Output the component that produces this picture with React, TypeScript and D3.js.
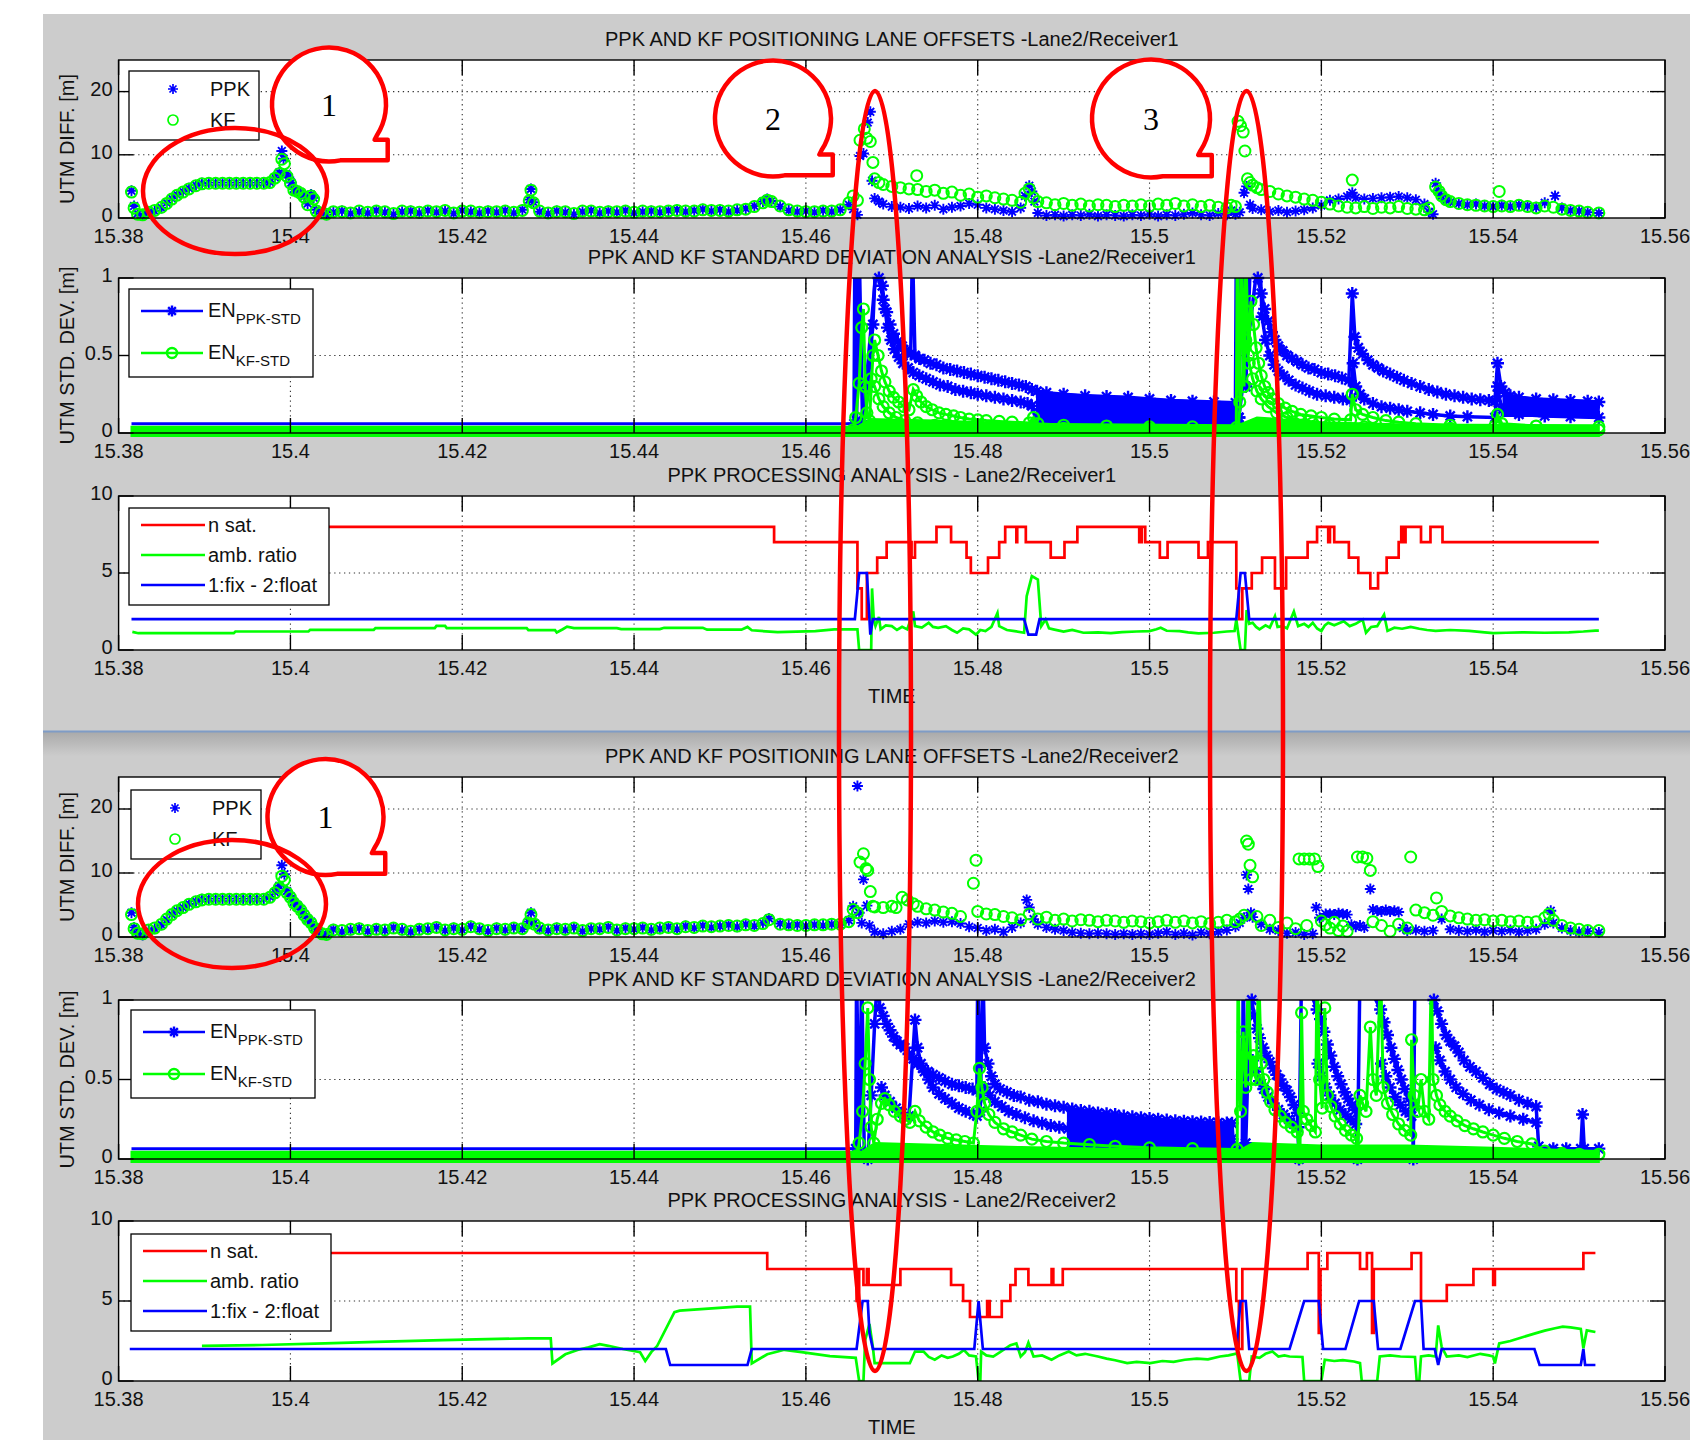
import React from 'react';
import * as d3 from 'd3';

type P = [number, number | null];
type B = [number, number, number];

// axes ticks
const timeTicks = [15.38, 15.4, 15.42, 15.44, 15.46, 15.48, 15.5, 15.52, 15.54, 15.56];
const diffTicks = [0, 10, 20];
const stdTicks = [0, 0.5, 1];
const procTicks = [0, 5, 10];

// ---------------- Receiver 1 : lane offsets ----------------
const r1PpkDiff: P[] = [
  [15.3815,4.3],[15.3818,1.9],[15.3822,0.7],[15.3828,0.4],[15.3835,1.0],[15.3842,1.1],[15.385,1.6],[15.3856,2.4],
  [15.3862,3.1],[15.3868,3.7],[15.3875,4.2],[15.3882,4.7],[15.389,5.2],[15.3897,5.5],[15.3905,5.6],[15.3913,5.6],
  [15.3921,5.6],[15.3929,5.6],[15.3937,5.6],[15.3945,5.6],[15.3953,5.6],[15.3961,5.6],[15.3969,5.6],[15.3976,5.7],
  [15.3982,6.4],[15.3987,7.2],[15.399,10.6],[15.3992,9.4],[15.3995,7.0],[15.3998,6.4],[15.4001,5.6],[15.4004,4.6],
  [15.4008,4.3],[15.4012,4.0],[15.4016,3.4],[15.402,2.3],[15.4024,3.7],[15.4027,3.2],[15.403,1.3],[15.4035,0.7],
  [15.4042,0.5],[15.405,0.9],[15.406,1.1],[15.407,0.7],[15.408,1.0],[15.409,0.8],[15.41,1.2],[15.411,0.9],
  [15.412,0.6],[15.413,1.0],[15.414,1.1],[15.415,0.8],[15.416,1.2],[15.417,0.9],[15.418,1.1],[15.419,0.7],
  [15.42,1.2],[15.421,1.0],[15.422,0.8],[15.423,1.1],[15.424,0.9],[15.425,1.2],[15.426,0.8],[15.427,1.3],
  [15.4278,2.9],[15.428,4.6],[15.4283,2.5],[15.429,1.0],[15.43,0.7],[15.431,1.1],[15.432,0.9],[15.433,0.6],
  [15.434,1.0],[15.435,1.2],[15.436,0.8],[15.437,1.1],[15.438,0.9],[15.439,1.2],[15.44,0.8],[15.441,1.0],
  [15.442,1.1],[15.443,0.9],[15.444,1.2],[15.445,1.3],[15.446,1.0],[15.447,1.2],[15.448,1.4],[15.449,1.1],
  [15.45,1.3],[15.451,1.0],[15.452,1.2],[15.453,1.5],[15.454,1.9],[15.455,2.6],[15.4555,3.0],[15.456,2.7],
  [15.457,1.8],[15.458,1.2],[15.459,1.0],[15.46,1.1],[15.461,0.9],[15.462,1.2],[15.463,1.0],[15.464,1.3],
  [15.465,2.1],[15.4655,1.4],[15.466,0.5],[15.4663,9.8],[15.4667,10.2],[15.4672,15.1],[15.4675,16.8],[15.4677,5.9],
  [15.468,3.1],[15.4685,2.6],[15.469,2.2],[15.47,1.8],[15.471,1.7],[15.472,1.5],[15.473,1.9],[15.474,1.6],
  [15.475,2.0],[15.476,1.4],[15.477,1.7],[15.478,1.9],[15.479,2.3],[15.48,2.1],[15.481,1.6],[15.482,1.4],
  [15.483,1.2],[15.484,1.0],[15.485,1.6],[15.4855,3.5],[15.486,5.1],[15.4863,4.2],[15.4866,2.6],[15.487,0.8],
  [15.488,0.4],[15.489,0.5],[15.49,0.3],[15.491,0.5],[15.492,0.4],[15.493,0.6],[15.494,0.3],[15.495,0.5],
  [15.496,0.4],[15.497,0.3],[15.498,0.5],[15.499,0.4],[15.5,0.6],[15.501,0.3],[15.502,0.5],[15.503,0.4],
  [15.504,0.6],[15.505,0.8],[15.506,0.5],[15.507,0.4],[15.508,0.7],[15.509,0.5],[15.5095,1.2],[15.51,0.6],
  [15.5105,0.9],[15.511,4.0],[15.5113,5.0],[15.5117,2.1],[15.512,1.5],[15.513,1.3],[15.514,1.0],[15.515,1.2],
  [15.516,0.9],[15.517,1.1],[15.518,1.3],[15.519,1.6],[15.52,2.0],[15.521,2.8],[15.522,3.0],[15.523,3.4],
  [15.5236,4.0],[15.524,3.2],[15.525,3.0],[15.526,3.1],[15.527,3.2],[15.528,3.3],[15.529,3.4],[15.53,3.2],
  [15.531,2.9],[15.532,2.2],[15.5325,1.0],[15.533,0.6],[15.5333,5.5],[15.5336,4.4],[15.534,3.5],[15.5345,2.8],
  [15.535,2.5],[15.536,2.3],[15.537,2.1],[15.538,2.2],[15.539,1.9],[15.54,1.8],[15.541,2.0],[15.542,1.8],
  [15.543,2.1],[15.544,1.9],[15.545,1.7],[15.546,2.4],[15.5472,3.5],[15.548,1.6],[15.549,1.2],[15.55,1.1],
  [15.551,0.9],[15.5523,0.8],
];
const r1KfDiff: P[] = [
  [15.3815,4.1],[15.3818,1.6],[15.3822,0.6],[15.3828,0.5],[15.3835,0.9],[15.3842,1.2],[15.385,1.7],[15.3856,2.3],
  [15.3862,3.0],[15.3868,3.6],[15.3875,4.1],[15.3882,4.6],[15.389,5.1],[15.3897,5.4],[15.3905,5.5],[15.3913,5.5],
  [15.3921,5.5],[15.3929,5.5],[15.3937,5.5],[15.3945,5.5],[15.3953,5.5],[15.3961,5.5],[15.3969,5.5],[15.3976,5.6],
  [15.3982,6.3],[15.3987,7.0],[15.399,9.3],[15.3993,8.6],[15.3996,6.6],[15.4,5.5],[15.4004,4.4],[15.4008,4.2],
  [15.4012,3.9],[15.4016,3.3],[15.402,2.1],[15.4024,3.5],[15.4027,3.0],[15.403,1.1],[15.4035,0.8],[15.4042,0.6],
  [15.405,1.0],[15.406,1.0],[15.407,0.8],[15.408,1.1],[15.409,0.9],[15.41,1.1],[15.411,1.0],[15.412,0.7],
  [15.413,1.1],[15.414,1.0],[15.415,0.9],[15.416,1.1],[15.417,1.0],[15.418,1.2],[15.419,0.8],[15.42,1.1],
  [15.421,1.1],[15.422,0.9],[15.423,1.0],[15.424,1.0],[15.425,1.1],[15.426,0.9],[15.427,1.2],[15.4278,2.7],
  [15.428,4.4],[15.4283,2.4],[15.429,1.1],[15.43,0.8],[15.431,1.0],[15.432,1.0],[15.433,0.7],[15.434,1.1],
  [15.435,1.1],[15.436,0.9],[15.437,1.0],[15.438,1.0],[15.439,1.1],[15.44,0.9],[15.441,1.1],[15.442,1.0],
  [15.443,1.0],[15.444,1.1],[15.445,1.2],[15.446,1.1],[15.447,1.1],[15.448,1.3],[15.449,1.2],[15.45,1.2],
  [15.451,1.1],[15.452,1.3],[15.453,1.4],[15.454,1.8],[15.455,2.4],[15.4555,2.8],[15.456,2.6],[15.457,1.9],
  [15.458,1.3],[15.459,1.1],[15.46,1.0],[15.461,1.0],[15.462,1.1],[15.463,1.1],[15.464,1.3],[15.465,2.4],
  [15.4655,3.5],[15.466,2.8],[15.4663,12.3],[15.4668,14.1],[15.4671,12.6],[15.4675,12.1],[15.4678,8.8],[15.468,6.2],
  [15.4685,5.6],[15.469,5.3],[15.47,5.0],[15.471,4.8],[15.472,4.6],[15.4729,6.7],[15.473,4.5],[15.474,4.2],
  [15.475,4.4],[15.476,3.9],[15.477,4.1],[15.478,3.6],[15.479,3.8],[15.48,3.3],[15.481,3.5],[15.482,3.2],
  [15.483,3.0],[15.484,2.8],[15.485,2.5],[15.4855,3.9],[15.486,4.6],[15.4865,3.2],[15.487,2.6],[15.488,2.4],
  [15.489,2.1],[15.49,2.3],[15.491,2.0],[15.492,2.2],[15.493,1.9],[15.494,2.1],[15.495,2.0],[15.496,1.8],
  [15.497,2.0],[15.498,1.9],[15.499,2.1],[15.5,1.9],[15.501,2.2],[15.502,2.0],[15.503,2.3],[15.504,1.9],
  [15.505,2.1],[15.506,1.8],[15.507,2.0],[15.508,1.7],[15.509,1.6],[15.5095,2.0],[15.51,1.8],[15.5103,15.3],
  [15.5106,14.6],[15.5109,13.6],[15.5111,10.6],[15.5114,6.2],[15.5117,5.6],[15.512,5.2],[15.5125,4.8],[15.513,4.5],
  [15.514,4.2],[15.515,3.8],[15.516,3.5],[15.517,3.3],[15.518,3.0],[15.519,2.8],[15.52,2.5],[15.521,2.2],
  [15.522,1.9],[15.523,1.7],[15.5236,6.0],[15.524,1.6],[15.525,1.8],[15.526,1.5],[15.527,1.7],[15.528,1.6],
  [15.529,1.8],[15.53,1.5],[15.531,1.4],[15.532,1.3],[15.5325,1.6],[15.5333,4.9],[15.5337,4.2],[15.534,3.5],
  [15.5345,2.9],[15.535,2.6],[15.536,2.3],[15.537,2.1],[15.538,2.0],[15.539,1.9],[15.54,1.8],[15.5407,4.2],
  [15.541,1.9],[15.542,1.8],[15.543,2.0],[15.544,1.8],[15.545,1.6],[15.546,1.9],[15.547,1.7],[15.548,1.4],
  [15.549,1.2],[15.55,1.1],[15.551,0.9],[15.5523,0.8],
];

// ---------------- Receiver 1 : standard deviations ----------------
const r1PpkStdBase: P[] = [[15.3815,0.06],[15.4656,0.06]];
const r1PpkStdA: P[] = [
  [15.4656,0.06],[15.4657,1.2],[15.4659,0.08],[15.4662,1.2],[15.4666,0.05],[15.4672,0.3],[15.4678,0.7],[15.4682,1.2],
  [15.4685,1.0],[15.469,0.86],[15.4694,0.78],[15.4698,0.7],[15.4702,0.64],[15.4707,0.59],[15.4712,0.56],[15.4717,0.53],
  [15.4722,0.51],[15.4724,1.2],[15.4727,0.5],[15.4732,0.48],[15.4738,0.47],[15.4745,0.45],[15.4752,0.44],[15.476,0.42],
  [15.4768,0.41],[15.4776,0.4],[15.4784,0.39],[15.4792,0.38],[15.48,0.37],[15.4808,0.36],[15.4816,0.35],[15.4824,0.34],
  [15.4832,0.33],[15.484,0.32],[15.4848,0.31],[15.4856,0.3],[15.4863,0.28],[15.4869,0.27],[15.488,0.26],[15.49,0.25],
  [15.4925,0.24],[15.495,0.235],[15.4975,0.23],[15.5,0.22],[15.5025,0.21],[15.505,0.205],[15.5075,0.2],[15.51,0.195],
  [15.5101,1.2],[15.5104,0.1],[15.5107,1.2],[15.5112,0.3],[15.5118,1.2],[15.5126,1.0],[15.513,0.9],[15.5134,0.8],
  [15.5138,0.72],[15.5142,0.65],[15.5146,0.6],[15.515,0.56],[15.5155,0.53],[15.516,0.5],[15.5166,0.48],[15.5172,0.46],
  [15.5178,0.44],[15.5185,0.42],[15.5192,0.41],[15.52,0.39],[15.5208,0.38],[15.5216,0.37],[15.5224,0.355],[15.5232,0.34],
  [15.5236,0.9],[15.5239,0.62],[15.5243,0.55],[15.5248,0.51],[15.5254,0.47],[15.526,0.44],[15.5266,0.42],[15.5272,0.4],
  [15.528,0.38],[15.5288,0.36],[15.5296,0.34],[15.5305,0.32],[15.5315,0.3],[15.5325,0.28],[15.5335,0.265],[15.5345,0.25],
  [15.5355,0.24],[15.5365,0.23],[15.5375,0.22],[15.5385,0.215],[15.5395,0.21],[15.5402,0.205],[15.5405,0.45],[15.5409,0.3],
  [15.5414,0.26],[15.542,0.24],[15.543,0.23],[15.545,0.22],[15.547,0.215],[15.549,0.21],[15.551,0.205],[15.5523,0.2],
];
const r1PpkStdB: P[] = [
  [15.4666,0.05],[15.4684,1.2],[15.4689,0.95],[15.4692,0.8],[15.4695,0.68],[15.4699,0.6],[15.4703,0.54],[15.4708,0.49],
  [15.4713,0.45],[15.4719,0.42],[15.4725,0.39],[15.4732,0.37],[15.474,0.35],[15.4748,0.33],[15.4756,0.31],[15.4765,0.3],
  [15.4774,0.28],[15.4783,0.27],[15.4792,0.26],[15.48,0.25],[15.481,0.24],[15.482,0.23],[15.483,0.22],[15.484,0.21],
  [15.485,0.2],[15.4858,0.19],[15.4863,0.175],[15.4869,0.06],[15.49,0.055],[15.5,0.05],[15.5103,0.05],[15.5104,0.1],
  [15.5128,1.2],[15.5131,0.75],[15.5135,0.6],[15.514,0.5],[15.5145,0.44],[15.515,0.4],[15.5156,0.37],[15.5162,0.34],
  [15.517,0.31],[15.5178,0.29],[15.5186,0.27],[15.5195,0.25],[15.5205,0.24],[15.5215,0.23],[15.5225,0.22],[15.5234,0.21],
  [15.5237,0.45],[15.524,0.3],[15.5245,0.25],[15.525,0.22],[15.526,0.19],[15.527,0.17],[15.528,0.16],[15.529,0.15],
  [15.53,0.14],[15.5315,0.13],[15.533,0.12],[15.535,0.11],[15.537,0.105],[15.5402,0.1],[15.5405,0.3],[15.541,0.15],
  [15.543,0.12],[15.546,0.11],[15.549,0.105],[15.5523,0.1],
];
const r1PpkStdFill: B[][] = [
  [[15.4869,0.05,0.27],[15.49,0.05,0.25],[15.495,0.05,0.235],[15.5,0.05,0.22],[15.505,0.05,0.205],[15.5101,0.05,0.195]],
  [[15.5412,0.11,0.25],[15.545,0.11,0.22],[15.5523,0.1,0.2]],
];
const r1KfStdFill: B[][] = [
  [[15.3815,-0.03,0.04],[15.466,-0.03,0.04],[15.4675,-0.03,0.09],[15.475,-0.03,0.08],[15.485,-0.03,0.06],[15.5103,-0.03,0.05],
   [15.5125,-0.03,0.1],[15.52,-0.03,0.07],[15.53,-0.03,0.055],[15.5523,-0.03,0.05]],
];
const r1KfStdA: P[] = [
  [15.4655,0.02],[15.4658,0.1],[15.4662,0.32],[15.4665,0.68],[15.4667,0.8],[15.4669,0.3],[15.4671,0.13],[15.4674,0.08],
  [15.4678,0.5],[15.468,0.6],[15.4684,0.5],[15.4688,0.4],[15.4692,0.33],[15.4697,0.27],[15.4702,0.23],[15.4708,0.2],
  [15.4714,0.17],[15.472,0.15],[15.4725,0.28],[15.4729,0.24],[15.4734,0.2],[15.474,0.17],[15.4747,0.15],[15.4755,0.13],
  [15.4763,0.12],[15.4772,0.11],[15.478,0.1],[15.479,0.09],[15.48,0.085],[15.481,0.08],[15.4825,0.075],[15.484,0.07],
  [15.486,0.065],[15.4865,0.1],[15.487,0.06],[15.49,0.05],[15.495,0.045],[15.5,0.04],[15.505,0.04],[15.5101,0.035],
  [15.5102,1.2],[15.5105,0.2],[15.5107,1.2],[15.511,0.3],[15.5112,1.2],[15.5115,0.5],[15.5118,0.85],[15.5121,0.7],
  [15.5124,0.55],[15.5127,0.45],[15.513,0.37],[15.5134,0.3],[15.5138,0.26],[15.5143,0.22],[15.515,0.19],[15.5158,0.16],
  [15.5166,0.14],[15.5176,0.12],[15.5188,0.11],[15.52,0.1],[15.5215,0.09],[15.5234,0.085],[15.5236,0.25],[15.524,0.15],
  [15.5248,0.12],[15.526,0.1],[15.5275,0.08],[15.529,0.07],[15.531,0.06],[15.535,0.05],[15.5402,0.045],[15.5405,0.12],
  [15.541,0.06],[15.545,0.045],[15.5523,0.04],
];
const r1KfStdB: P[] = [
  [15.4666,0.02],[15.4676,0.35],[15.468,0.3],[15.4685,0.22],[15.469,0.17],[15.4697,0.13],[15.4705,0.1],[15.4715,0.08],
  [15.473,0.065],[15.475,0.05],[15.48,0.04],[15.49,0.03],[15.5,0.025],[15.5103,0.02],[15.5112,0.6],[15.5116,0.45],
  [15.512,0.35],[15.5125,0.27],[15.513,0.22],[15.5138,0.17],[15.5148,0.13],[15.516,0.1],[15.5175,0.08],[15.519,0.065],
  [15.521,0.05],[15.525,0.04],[15.535,0.03],[15.5523,0.02],
];

// ---------------- Receiver 1 : processing ----------------
const r1NSat: P[] = [
  [15.3815,8],[15.4563,7],[15.466,4],[15.4665,2],[15.4671,5],[15.4683,6],[15.4694,7],[15.4723,6],[15.4727,7],[15.4752,8],
  [15.4769,7],[15.4787,6],[15.4792,5],[15.4812,6],[15.4825,7],[15.4832,8],[15.4845,7],[15.4846,8],[15.4856,7],[15.4885,6],
  [15.4901,7],[15.4916,8],[15.4988,7],[15.4991,8],[15.4995,7],[15.5012,6],[15.5021,7],[15.5057,6],[15.5068,7],[15.5101,4],
  [15.5104,2],[15.5108,4],[15.5119,5],[15.5131,6],[15.5146,4],[15.5159,6],[15.5184,7],[15.5195,8],[15.5208,7],[15.521,8],
  [15.5215,7],[15.5232,6],[15.5243,5],[15.5257,4],[15.5266,5],[15.5276,6],[15.529,7],[15.5293,8],[15.5296,7],[15.5298,8],
  [15.5316,7],[15.5327,8],[15.5341,7],[15.5523,7],
];
const r1AmbRatio: P[] = [
  [15.3816,1.18],[15.3823,1.09],[15.3934,1.09],[15.3936,1.2],[15.4021,1.2],[15.4023,1.31],[15.4097,1.31],[15.4099,1.42],
  [15.4168,1.42],[15.417,1.57],[15.418,1.57],[15.4182,1.42],[15.4275,1.42],[15.4277,1.29],[15.4308,1.29],[15.431,1.14],
  [15.4317,1.35],[15.4322,1.52],[15.433,1.42],[15.438,1.42],[15.4385,1.36],[15.443,1.36],[15.4435,1.44],[15.448,1.44],
  [15.4485,1.32],[15.4525,1.32],[15.4532,1.5],[15.4537,1.28],[15.4567,1.16],[15.4611,1.23],[15.4633,1.34],[15.466,1.34],
  [15.4662,0],[15.4676,0],[15.4677,4.0],[15.4679,1.98],[15.4681,1.55],[15.4685,2.15],[15.4687,1.34],[15.4693,1.6],
  [15.47,1.55],[15.4706,1.3],[15.4712,1.5],[15.4718,1.34],[15.4725,2.5],[15.4727,1.55],[15.4735,1.45],[15.4743,1.77],
  [15.4748,1.5],[15.4754,1.44],[15.4763,1.55],[15.477,1.3],[15.4776,1.12],[15.4783,1.4],[15.479,1.34],[15.4798,1.0],
  [15.4803,1.3],[15.4809,1.23],[15.4816,1.5],[15.4823,2.4],[15.4825,1.55],[15.4834,1.3],[15.4843,1.23],[15.4854,1.12],
  [15.4857,3.5],[15.4863,4.8],[15.487,4.57],[15.4874,1.55],[15.4879,1.98],[15.4883,1.4],[15.4888,1.34],[15.49,1.2],
  [15.491,1.3],[15.4923,1.12],[15.494,1.15],[15.4955,1.1],[15.4968,1.16],[15.4985,1.2],[15.5,1.23],[15.5008,1.35],
  [15.5013,1.44],[15.502,1.25],[15.5035,1.23],[15.5045,1.15],[15.5057,1.08],[15.5075,1.12],[15.509,1.2],[15.5099,1.23],
  [15.5101,1.98],[15.5106,0],[15.5111,0],[15.5113,2.6],[15.5116,1.7],[15.512,1.77],[15.5124,1.5],[15.5128,1.34],
  [15.5135,1.6],[15.514,1.45],[15.5146,2.2],[15.5149,1.5],[15.5155,1.55],[15.516,1.4],[15.5168,2.5],[15.5173,1.55],
  [15.518,1.7],[15.5185,1.5],[15.519,1.77],[15.5195,1.4],[15.52,1.23],[15.5204,1.6],[15.5208,1.77],[15.5215,1.6],
  [15.5226,1.87],[15.5233,1.55],[15.524,1.7],[15.5248,1.98],[15.5252,1.12],[15.5258,1.5],[15.5265,1.55],[15.5273,2.3],
  [15.5277,1.24],[15.5285,1.45],[15.5294,1.38],[15.5304,1.5],[15.5314,1.38],[15.5323,1.3],[15.5333,1.24],[15.535,1.3],
  [15.5372,1.24],[15.539,1.15],[15.54,1.09],[15.5415,1.12],[15.5434,1.15],[15.546,1.12],[15.5488,1.15],[15.5505,1.2],
  [15.5519,1.26],[15.5523,1.26],
];
const r1FixFloat: P[] = [
  [15.3815,2],[15.4657,2],[15.4662,5],[15.4671,5],[15.4675,1],[15.4678,2],[15.4854,2],[15.4859,1],[15.4868,1],[15.4872,2],
  [15.5101,2],[15.5106,5],[15.5111,5],[15.5116,2],[15.5523,2],
];

// ---------------- Receiver 2 : lane offsets ----------------
const r2PpkDiff: P[] = [
  [15.3815,3.8],[15.3818,1.5],[15.3822,0.5],[15.3828,0.3],[15.3835,1.0],[15.3842,1.3],[15.385,1.9],[15.3856,2.7],
  [15.3862,3.5],[15.3868,4.1],[15.3875,4.6],[15.3882,5.2],[15.389,5.6],[15.3897,5.9],[15.3905,6.0],[15.3913,6.0],
  [15.3921,6.0],[15.3929,6.0],[15.3937,6.0],[15.3945,6.0],[15.3953,6.0],[15.3961,6.0],[15.3969,6.0],[15.3976,6.3],
  [15.3982,7.0],[15.3987,8.0],[15.399,11.2],[15.3993,9.8],[15.3996,7.2],[15.4,6.4],[15.4004,5.5],[15.4008,5.0],
  [15.4012,4.4],[15.4016,3.6],[15.402,2.9],[15.4024,2.4],[15.4028,1.5],[15.4032,0.8],[15.4037,0.4],[15.4042,0.3],
  [15.405,1.2],[15.406,0.8],[15.407,1.1],[15.408,1.4],[15.409,0.9],[15.41,1.3],[15.411,1.0],[15.412,1.5],
  [15.413,1.1],[15.414,0.8],[15.415,1.3],[15.416,1.2],[15.417,1.6],[15.418,1.0],[15.419,1.4],[15.42,1.1],
  [15.421,1.7],[15.422,1.2],[15.423,0.9],[15.424,1.4],[15.425,1.1],[15.426,1.5],[15.427,1.2],[15.4277,2.4],
  [15.428,3.8],[15.4284,2.2],[15.429,1.3],[15.43,1.0],[15.431,1.4],[15.432,1.1],[15.433,1.5],[15.434,0.9],
  [15.435,1.3],[15.436,1.2],[15.437,1.6],[15.438,1.0],[15.439,1.4],[15.44,1.2],[15.441,1.5],[15.442,1.1],
  [15.443,1.3],[15.444,1.6],[15.445,1.2],[15.446,1.7],[15.447,1.4],[15.448,1.8],[15.449,1.5],[15.45,1.7],
  [15.451,1.9],[15.452,1.6],[15.453,2.0],[15.454,1.7],[15.455,2.2],[15.4557,2.9],[15.457,2.1],[15.458,1.8],
  [15.459,1.9],[15.46,1.7],[15.461,1.9],[15.462,1.8],[15.463,2.0],[15.464,1.9],[15.465,2.6],[15.4655,4.8],
  [15.466,23.6],[15.4662,3.8],[15.4665,2.2],[15.4667,9.0],[15.4671,4.9],[15.4674,1.8],[15.468,0.8],[15.469,0.5],
  [15.47,0.9],[15.471,1.2],[15.472,2.0],[15.473,2.3],[15.474,2.2],[15.475,2.5],[15.476,2.3],[15.477,2.4],
  [15.478,2.1],[15.479,1.6],[15.48,1.4],[15.481,1.0],[15.482,1.2],[15.483,0.8],[15.484,1.5],[15.485,2.2],
  [15.4857,5.8],[15.486,4.6],[15.4865,2.8],[15.487,2.0],[15.488,1.5],[15.489,1.2],[15.49,1.0],[15.491,0.7],
  [15.492,0.6],[15.493,0.5],[15.494,0.6],[15.495,0.5],[15.496,0.4],[15.497,0.5],[15.498,0.4],[15.499,0.5],
  [15.5,0.4],[15.501,0.6],[15.502,0.8],[15.503,0.4],[15.504,0.6],[15.505,0.3],[15.506,0.7],[15.507,0.5],
  [15.508,0.8],[15.509,1.1],[15.51,1.6],[15.5105,2.2],[15.511,3.0],[15.5113,9.7],[15.5115,7.5],[15.5118,3.8],
  [15.512,3.1],[15.513,2.0],[15.514,1.2],[15.515,1.0],[15.516,0.6],[15.517,0.7],[15.518,0.4],[15.519,0.5],
  [15.5194,4.6],[15.5198,3.0],[15.5205,3.6],[15.521,3.6],[15.5215,3.5],[15.522,3.7],[15.5225,3.6],[15.523,3.5],
  [15.5235,1.9],[15.524,1.6],[15.5245,1.8],[15.525,1.5],[15.5257,7.5],[15.526,4.3],[15.5265,4.1],[15.527,4.0],
  [15.5275,4.2],[15.528,4.0],[15.5285,4.1],[15.529,3.9],[15.5295,1.4],[15.53,1.0],[15.531,1.1],[15.532,0.9],
  [15.533,1.0],[15.534,2.8],[15.535,1.2],[15.536,1.0],[15.537,0.9],[15.538,1.1],[15.539,0.8],[15.54,1.0],
  [15.541,0.9],[15.542,1.1],[15.543,0.8],[15.544,1.0],[15.545,1.2],[15.546,2.0],[15.5467,4.1],[15.547,2.2],
  [15.548,1.4],[15.549,1.0],[15.55,0.8],[15.551,0.9],[15.5523,0.7],
];
const r2KfDiff: P[] = [
  [15.3815,3.5],[15.3818,1.3],[15.3822,0.6],[15.3828,0.5],[15.3835,1.1],[15.3842,1.4],[15.385,2.0],[15.3856,2.8],
  [15.3862,3.5],[15.3868,4.1],[15.3875,4.6],[15.3882,5.1],[15.389,5.5],[15.3897,5.8],[15.3905,5.9],[15.3913,5.9],
  [15.3921,5.9],[15.3929,5.9],[15.3937,5.9],[15.3945,5.9],[15.3953,5.9],[15.3961,5.9],[15.3969,5.9],[15.3976,6.2],
  [15.3982,6.9],[15.3987,7.7],[15.399,9.5],[15.3993,8.9],[15.3996,6.9],[15.4,6.2],[15.4004,5.3],[15.4008,4.8],
  [15.4012,4.2],[15.4016,3.4],[15.402,2.7],[15.4024,2.2],[15.4028,1.4],[15.4032,0.9],[15.4037,0.5],[15.4042,0.4],
  [15.405,1.1],[15.406,1.0],[15.407,1.2],[15.408,1.3],[15.409,1.0],[15.41,1.2],[15.411,1.1],[15.412,1.4],
  [15.413,1.2],[15.414,0.9],[15.415,1.2],[15.416,1.3],[15.417,1.5],[15.418,1.1],[15.419,1.3],[15.42,1.2],
  [15.421,1.6],[15.422,1.3],[15.423,1.0],[15.424,1.3],[15.425,1.2],[15.426,1.4],[15.427,1.3],[15.4277,2.2],
  [15.428,3.5],[15.4284,2.0],[15.429,1.4],[15.43,1.1],[15.431,1.3],[15.432,1.2],[15.433,1.4],[15.434,1.0],
  [15.435,1.3],[15.436,1.3],[15.437,1.5],[15.438,1.1],[15.439,1.3],[15.44,1.3],[15.441,1.4],[15.442,1.2],
  [15.443,1.4],[15.444,1.5],[15.445,1.3],[15.446,1.6],[15.447,1.5],[15.448,1.7],[15.449,1.6],[15.45,1.7],
  [15.451,1.8],[15.452,1.7],[15.453,1.9],[15.454,1.8],[15.455,2.1],[15.4557,2.7],[15.457,2.0],[15.458,1.9],
  [15.459,1.8],[15.46,1.8],[15.461,1.9],[15.462,1.9],[15.463,2.0],[15.464,2.0],[15.465,2.4],[15.4655,4.3],
  [15.466,3.8],[15.4663,11.7],[15.4667,13.0],[15.467,10.7],[15.4672,10.4],[15.4675,7.1],[15.4678,4.8],[15.468,4.7],
  [15.469,4.6],[15.47,4.8],[15.4705,4.6],[15.4712,6.2],[15.4718,5.8],[15.4725,5.2],[15.473,4.8],[15.474,4.4],
  [15.475,4.2],[15.476,3.9],[15.477,3.7],[15.478,3.2],[15.4795,8.4],[15.4798,12.0],[15.48,4.0],[15.481,3.6],
  [15.482,3.5],[15.483,3.2],[15.484,3.0],[15.485,2.7],[15.486,3.6],[15.487,2.8],[15.488,3.1],[15.489,2.6],
  [15.49,2.8],[15.491,2.5],[15.492,2.7],[15.493,2.6],[15.494,2.4],[15.495,2.6],[15.496,2.5],[15.497,2.3],
  [15.498,2.5],[15.499,2.4],[15.5,2.2],[15.501,2.4],[15.502,2.6],[15.503,2.3],[15.504,2.5],[15.505,2.2],
  [15.506,2.4],[15.507,2.1],[15.508,2.3],[15.509,2.6],[15.51,2.4],[15.5105,2.8],[15.511,3.4],[15.5113,15.0],
  [15.5115,14.5],[15.5117,11.2],[15.512,9.4],[15.5125,3.2],[15.513,1.8],[15.514,2.6],[15.515,1.5],[15.516,2.2],
  [15.517,1.3],[15.5174,12.2],[15.518,12.2],[15.5183,1.8],[15.5186,12.2],[15.5192,12.2],[15.5196,11.0],[15.52,2.5],
  [15.5205,1.9],[15.521,1.4],[15.5215,2.3],[15.522,1.0],[15.5225,1.7],[15.523,0.9],[15.5242,12.5],[15.5248,12.5],
  [15.5253,12.3],[15.5257,10.4],[15.526,2.4],[15.527,1.8],[15.528,0.9],[15.529,2.0],[15.53,1.4],[15.5304,12.5],
  [15.531,4.2],[15.532,3.8],[15.533,3.4],[15.5334,6.1],[15.534,4.0],[15.535,3.3],[15.536,3.0],[15.537,2.8],
  [15.538,2.6],[15.539,2.7],[15.54,2.5],[15.541,2.6],[15.542,2.4],[15.543,2.5],[15.544,2.3],[15.545,2.4],
  [15.546,3.0],[15.5465,3.6],[15.547,2.6],[15.548,1.8],[15.549,1.4],[15.55,1.2],[15.551,1.0],[15.5523,1.0],
];

// ---------------- Receiver 2 : standard deviations ----------------
const r2PpkStdBase: P[] = [[15.3815,0.065],[15.4658,0.065]];
const r2PpkStdA: P[] = [
  [15.4658,0.065],[15.4659,1.2],[15.4662,0.05],[15.4665,1.2],[15.4668,0.02],[15.4672,0.0],[15.4676,0.4],[15.468,0.85],
  [15.4684,1.2],[15.4686,0.95],[15.469,0.9],[15.4694,0.85],[15.4698,0.81],[15.4702,0.77],[15.4706,0.74],[15.471,0.72],
  [15.4715,0.7],[15.472,0.66],[15.4725,0.63],[15.473,0.6],[15.4736,0.57],[15.4742,0.55],[15.4748,0.53],[15.4755,0.51],
  [15.4762,0.49],[15.477,0.47],[15.4778,0.46],[15.4786,0.45],[15.4794,0.44],[15.4799,0.43],[15.48,1.2],[15.4803,0.3],
  [15.4806,1.2],[15.4808,0.7],[15.4812,0.6],[15.4816,0.52],[15.482,0.47],[15.4826,0.44],[15.4834,0.42],[15.4842,0.4],
  [15.485,0.39],[15.486,0.37],[15.487,0.36],[15.488,0.345],[15.489,0.335],[15.49,0.325],[15.491,0.315],[15.492,0.305],
  [15.493,0.3],[15.494,0.29],[15.495,0.285],[15.496,0.28],[15.497,0.27],[15.498,0.265],[15.499,0.26],[15.5,0.255],
  [15.501,0.25],[15.502,0.245],[15.503,0.24],[15.504,0.238],[15.505,0.235],[15.506,0.233],[15.507,0.23],[15.508,0.228],
  [15.509,0.226],[15.5096,0.225],[15.5098,0.065],[15.5108,0.065],[15.5109,1.2],[15.5112,0.1],[15.5118,1.2],[15.5119,1.0],
  [15.5122,0.9],[15.5125,0.82],[15.5128,0.76],[15.5132,0.7],[15.5136,0.65],[15.514,0.61],[15.5144,0.57],[15.5148,0.53],
  [15.5152,0.5],[15.5156,0.46],[15.516,0.43],[15.5164,0.39],[15.5168,0.34],[15.5172,0.29],[15.5174,0.0],[15.5177,1.2],
  [15.5195,0.94],[15.5199,0.88],[15.5203,0.8],[15.5207,0.72],[15.5211,0.65],[15.5215,0.58],[15.5219,0.52],[15.5223,0.47],
  [15.5227,0.42],[15.5231,0.38],[15.5236,0.34],[15.524,0.31],[15.5242,0.0],[15.5245,1.2],[15.5269,0.94],[15.5273,0.86],
  [15.5277,0.78],[15.5281,0.7],[15.5285,0.63],[15.5289,0.56],[15.5293,0.5],[15.5297,0.44],[15.5302,0.38],[15.5306,0.34],
  [15.5307,0.0],[15.5309,1.2],[15.5331,1.0],[15.5335,0.93],[15.534,0.85],[15.5345,0.78],[15.535,0.74],[15.5355,0.71],
  [15.536,0.67],[15.5366,0.62],[15.5373,0.58],[15.538,0.55],[15.5388,0.51],[15.5396,0.47],[15.5404,0.44],[15.5412,0.42],
  [15.542,0.4],[15.543,0.37],[15.544,0.35],[15.545,0.33],[15.5453,0.08],[15.547,0.065],[15.5485,0.065],[15.5502,0.065],
  [15.5504,0.28],[15.5506,0.065],[15.5523,0.065],
];
const r2PpkStdB: P[] = [
  [15.4688,0.45],[15.4692,0.4],[15.4698,0.36],[15.4705,0.32],[15.4712,0.29],[15.472,0.27],[15.4727,0.875],[15.473,0.7],
  [15.4734,0.6],[15.4738,0.55],[15.4743,0.5],[15.4748,0.45],[15.4755,0.41],[15.4762,0.38],[15.477,0.35],[15.4778,0.32],
  [15.4786,0.3],[15.4795,0.28],[15.4799,0.27],[15.4808,0.45],[15.4814,0.4],[15.482,0.36],[15.4828,0.33],[15.4836,0.3],
  [15.4845,0.28],[15.4855,0.26],[15.4865,0.24],[15.4875,0.225],[15.4885,0.21],[15.4895,0.2],[15.4905,0.19],[15.4915,0.18],
  [15.493,0.17],[15.495,0.16],[15.497,0.15],[15.5,0.14],[15.503,0.135],[15.506,0.13],[15.5096,0.125],[15.5097,null],
  [15.512,0.62],[15.5124,0.55],[15.5128,0.49],[15.5133,0.44],[15.5138,0.39],[15.5144,0.35],[15.515,0.31],[15.5156,0.28],
  [15.5162,0.25],[15.5168,0.22],[15.5173,0.2],[15.5174,null],[15.5196,0.6],[15.52,0.52],[15.5205,0.45],[15.521,0.4],
  [15.5216,0.35],[15.5222,0.31],[15.5228,0.28],[15.5234,0.25],[15.524,0.22],[15.5241,null],[15.527,0.6],[15.5275,0.52],
  [15.528,0.45],[15.5286,0.39],[15.5292,0.34],[15.5298,0.3],[15.5305,0.27],[15.5306,null],[15.5333,0.7],[15.5338,0.62],
  [15.5344,0.55],[15.535,0.5],[15.5357,0.45],[15.5365,0.41],[15.5374,0.37],[15.5384,0.34],[15.5395,0.31],[15.5407,0.29],
  [15.542,0.27],[15.5435,0.25],[15.545,0.23],
];
const r2PpkStdFill: B[][] = [
  [[15.4905,0.065,0.32],[15.495,0.065,0.285],[15.5,0.065,0.255],[15.505,0.065,0.235],[15.5096,0.065,0.225]],
];
const r2KfStdFill: B[][] = [
  [[15.3815,-0.03,0.045],[15.4665,-0.03,0.045],[15.468,-0.03,0.1],[15.475,-0.03,0.09],[15.485,-0.03,0.075],[15.5,-0.03,0.06],
   [15.5105,-0.03,0.055],[15.512,-0.03,0.1],[15.52,-0.03,0.085],[15.53,-0.03,0.085],[15.54,-0.03,0.07],[15.5523,-0.03,0.05]],
];
const r2KfStdA: P[] = [
  [15.4659,0.02],[15.4662,0.1],[15.4666,0.3],[15.4669,0.6],[15.4672,0.95],[15.4674,0.5],[15.4676,0.2],[15.4679,0.1],
  [15.4683,0.25],[15.4688,0.35],[15.4692,0.38],[15.4697,0.34],[15.4703,0.3],[15.471,0.27],[15.4716,0.25],[15.4721,0.23],
  [15.4727,0.3],[15.4732,0.24],[15.474,0.2],[15.4748,0.17],[15.4756,0.15],[15.4765,0.13],[15.4775,0.12],[15.4785,0.11],
  [15.4795,0.1],[15.4799,0.3],[15.4802,0.57],[15.4805,0.45],[15.4808,0.35],[15.4813,0.28],[15.482,0.23],[15.483,0.19],
  [15.484,0.17],[15.485,0.15],[15.4863,0.125],[15.488,0.11],[15.49,0.1],[15.493,0.09],[15.496,0.08],[15.5,0.07],
  [15.505,0.065],[15.5102,0.06],[15.5103,1.2],[15.5106,0.3],[15.5109,0.8],[15.5112,0.45],[15.5115,1.2],[15.5118,0.5],
  [15.5121,0.65],[15.5124,0.5],[15.5127,1.2],[15.513,0.6],[15.5133,0.5],[15.5137,0.42],[15.5141,0.36],[15.5146,0.31],
  [15.5152,0.27],[15.5158,0.23],[15.5165,0.2],[15.5172,0.17],[15.5175,0.01],[15.5177,0.92],[15.5179,0.3],[15.5183,0.25],
  [15.5188,0.21],[15.5193,0.17],[15.5195,1.2],[15.5198,0.5],[15.5201,0.32],[15.5204,0.95],[15.5207,0.4],[15.5211,0.33],
  [15.5216,0.27],[15.5222,0.22],[15.5228,0.18],[15.5235,0.15],[15.5241,0.13],[15.5242,0.01],[15.5245,0.4],[15.5248,0.35],
  [15.5252,0.3],[15.5257,0.83],[15.526,0.5],[15.5264,0.4],[15.5269,1.2],[15.5272,0.45],[15.5277,0.35],[15.5283,0.28],
  [15.529,0.22],[15.5297,0.18],[15.5304,0.15],[15.5305,0.75],[15.5308,0.4],[15.5312,0.3],[15.5316,0.5],[15.532,0.3],
  [15.5325,0.25],[15.5328,1.2],[15.533,0.5],[15.5334,0.4],[15.5338,0.34],[15.5344,0.3],[15.535,0.27],[15.5358,0.24],
  [15.5367,0.21],[15.5377,0.19],[15.5388,0.17],[15.54,0.15],[15.5413,0.13],[15.5428,0.11],[15.5445,0.095],[15.546,0.05],
  [15.548,0.035],[15.55,0.03],[15.5523,0.03],
];
const r2KfStdB: P[] = [];

// ---------------- Receiver 2 : processing ----------------
const r2NSat: P[] = [
  [15.3815,8],[15.4555,7],[15.4659,5],[15.4662,7],[15.4667,6],[15.4671,7],[15.4673,6],[15.471,7],[15.4769,6],[15.4783,5],
  [15.4791,4],[15.4811,5],[15.4814,4],[15.4828,5],[15.4838,6],[15.4844,7],[15.4859,6],[15.4886,7],[15.4888,6],[15.4899,7],
  [15.5101,5],[15.5104,2],[15.5108,7],[15.5184,8],[15.5197,3],[15.5199,7],[15.5207,8],[15.5245,7],[15.5253,8],[15.5259,3],
  [15.5261,7],[15.5305,8],[15.5316,5],[15.5346,6],[15.5377,7],[15.54,6],[15.5402,7],[15.5505,8],[15.5519,8],
];
const r2AmbRatio: P[] = [
  [15.3897,2.19],[15.3967,2.25],[15.404,2.35],[15.41,2.45],[15.4177,2.55],[15.4277,2.67],[15.4303,2.67],[15.4305,1.1],
  [15.432,1.67],[15.4335,1.95],[15.4347,2.1],[15.436,2.3],[15.437,2.2],[15.4387,2.0],[15.4407,1.8],[15.4413,1.25],
  [15.442,1.8],[15.4427,2.2],[15.4447,4.3],[15.4453,4.4],[15.452,4.65],[15.4535,4.65],[15.4537,1.1],[15.4555,1.67],
  [15.4575,1.95],[15.4595,1.8],[15.4628,1.55],[15.4658,1.45],[15.4662,0],[15.4667,0],[15.4669,2.55],[15.4674,3.57],
  [15.4678,2.1],[15.468,1.12],[15.4721,1.12],[15.4727,1.84],[15.4737,1.84],[15.4743,1.5],[15.475,1.33],[15.4758,1.6],
  [15.4765,1.45],[15.4771,1.53],[15.4778,1.7],[15.4784,1.94],[15.479,1.6],[15.4798,1.53],[15.4801,0],[15.4803,0],
  [15.4804,1.84],[15.481,1.6],[15.4818,1.53],[15.4826,1.8],[15.4838,2.24],[15.4845,2.35],[15.485,1.53],[15.4855,1.8],
  [15.4859,2.39],[15.4865,1.53],[15.4875,1.6],[15.4886,1.33],[15.4895,1.6],[15.4906,1.84],[15.4915,1.6],[15.4925,1.7],
  [15.494,1.53],[15.495,1.4],[15.496,1.3],[15.4974,1.12],[15.4985,1.2],[15.5001,1.12],[15.5015,1.25],[15.5028,1.2],
  [15.5041,1.33],[15.5055,1.4],[15.5068,1.35],[15.5082,1.53],[15.5092,1.6],[15.5102,1.73],[15.5106,0],[15.5116,0],
  [15.5119,1.53],[15.5128,1.45],[15.5135,1.7],[15.5143,1.84],[15.515,1.53],[15.5157,1.6],[15.5163,1.53],[15.5178,1.5],
  [15.518,0],[15.52,0],[15.5204,1.33],[15.5215,1.25],[15.5225,1.3],[15.5238,1.22],[15.5245,1.12],[15.5247,0],
  [15.5265,0],[15.5268,1.53],[15.528,1.6],[15.5292,1.53],[15.5309,1.5],[15.5311,0],[15.5314,0],[15.5316,1.53],
  [15.5325,1.6],[15.5333,1.53],[15.5336,3.47],[15.534,2.14],[15.5346,1.53],[15.536,1.6],[15.537,1.5],[15.5385,1.7],
  [15.5395,1.6],[15.54,1.53],[15.5402,1.1],[15.5407,2.35],[15.542,2.5],[15.5435,2.75],[15.5448,2.96],[15.546,3.15],
  [15.5472,3.3],[15.5481,3.4],[15.549,3.35],[15.5502,3.26],[15.5505,2.04],[15.5509,3.16],[15.5519,3.06],
];
const r2FixFloat: P[] = [
  [15.3813,2],[15.4437,2],[15.4442,1],[15.4532,1],[15.4537,2],[15.4659,2],[15.4666,5],[15.4672,5],[15.4674,3],[15.4678,2],
  [15.4796,2],[15.4801,5],[15.4806,2],[15.5101,2],[15.5106,5],[15.5112,5],[15.5116,2],[15.5163,2],[15.518,5],[15.5197,5],
  [15.5202,2],[15.5228,2],[15.5244,5],[15.5261,5],[15.5266,2],[15.5292,2],[15.5309,5],[15.5316,5],[15.5319,2],[15.5332,2],
  [15.5336,1],[15.534,2],[15.5448,2],[15.5454,1],[15.5502,1],[15.5505,2],[15.5507,1],[15.5519,1],
];

// ---------------- drawing ----------------
const FONT = '"Liberation Sans", Arial, Helvetica, sans-serif';
const BLUE = '#0000ff';
const GREEN = '#00ff00';
const RED = '#ff0000';
const X0 = 118.6;
const X1 = 1665;
const XC = (X0 + X1) / 2;
const x = d3.scaleLinear().domain([15.38, 15.56]).range([X0, X1]);
const fmt = (v: number) => String(+v.toFixed(2));

const starAt = (cx: number, cy: number, s = 5) => {
  const k = s * 0.7;
  return `M${cx - s},${cy}h${2 * s}M${cx},${cy - s}v${2 * s}M${cx - k},${cy - k}l${2 * k},${2 * k}M${cx - k},${cy + k}l${2 * k},${-2 * k}`;
};
const ringAt = (cx: number, cy: number, r = 5) =>
  `M${cx + r},${cy}a${r},${r} 0 1,0 ${-2 * r},0a${r},${r} 0 1,0 ${2 * r},0`;

function markers(pts: P[], y: any, hi: number, shape: 'star' | 'ring', size: number) {
  return pts
    .filter((p) => p[1] != null && (p[1] as number) <= hi && (p[1] as number) >= 0)
    .map(([t, v]) => (shape === 'star' ? starAt(x(t), y(v), size) : ringAt(x(t), y(v), size)))
    .join('');
}

function Axes({ id, top, bottom, domain, ticks, title, ylabel, time, render, legend }: any) {
  const y = d3.scaleLinear().domain(domain).range([bottom, top]);
  const h = bottom - top;
  return (
    <g>
      <rect x={X0} y={top} width={X1 - X0} height={h} fill="#fff" />
      <g stroke="#333" strokeWidth={1.1} strokeDasharray="1.3 3.6">
        {timeTicks.slice(1, -1).map((t) => (
          <line key={t} x1={x(t)} x2={x(t)} y1={top} y2={bottom} />
        ))}
        {ticks
          .filter((v: number) => y(v) < bottom - 2 && y(v) > top + 2)
          .map((v: number) => (
            <line key={v} x1={X0} x2={X1} y1={y(v)} y2={y(v)} />
          ))}
      </g>
      <defs>
        <clipPath id={id}>
          <rect x={X0} y={top} width={X1 - X0} height={h} />
        </clipPath>
        <clipPath id={id + 'b'}>
          <rect x={X0} y={top} width={X1 - X0} height={h + 4} />
        </clipPath>
      </defs>
      {render(y, `url(#${id})`, `url(#${id}b)`)}
      <rect x={X0} y={top} width={X1 - X0} height={h} fill="none" stroke="#000" strokeWidth={1.4} />
      <g stroke="#000" strokeWidth={1.4}>
        {timeTicks.map((t) => (
          <g key={t}>
            <line x1={x(t)} x2={x(t)} y1={bottom} y2={bottom - 15} />
            <line x1={x(t)} x2={x(t)} y1={top} y2={top + 15} />
          </g>
        ))}
        {ticks.map((v: number) => (
          <g key={v}>
            <line x1={X0} x2={X0 + 15} y1={y(v)} y2={y(v)} />
            <line x1={X1} x2={X1 - 15} y1={y(v)} y2={y(v)} />
          </g>
        ))}
      </g>
      <g fontFamily={FONT} fontSize={20} fill="#111">
        {timeTicks.map((t) => (
          <text key={t} x={x(t)} y={bottom + 25} textAnchor="middle">{fmt(t)}</text>
        ))}
        {ticks.map((v: number) => (
          <text key={v} x={X0 - 6} y={y(v) + 4} textAnchor="end">{fmt(v)}</text>
        ))}
        <text x={XC} y={top - 14} textAnchor="middle">{title}</text>
        {ylabel && (
          <text transform={`translate(74,${(top + bottom) / 2}) rotate(-90)`} textAnchor="middle">{ylabel}</text>
        )}
        {time && <text x={XC} y={bottom + 53} textAnchor="middle">TIME</text>}
      </g>
      {legend}
    </g>
  );
}

function Scatter({ y, ppk, kf }: any) {
  return (
    <g fill="none">
      <path d={markers(ppk, y, 25, 'star', 5.5)} stroke={BLUE} strokeWidth={1.9} />
      <path d={markers(kf, y, 25, 'ring', 5.5)} stroke={GREEN} strokeWidth={2} />
    </g>
  );
}

function StdPlot({ y, clip, clipB, base, ppkA, ppkB, ppkFill, kfFill, kfA, kfB }: any) {
  const line = d3.line<P>().defined((d) => d[1] != null).x((d) => x(d[0])).y((d) => y(d[1] as number));
  const area = d3.area<B>().x((d) => x(d[0])).y0((d) => y(d[1])).y1((d) => y(d[2]));
  return (
    <g fill="none">
      <g clipPath={clip}>
        <path d={line(base) || ''} stroke={BLUE} strokeWidth={3} />
        {ppkFill.map((f: B[], i: number) => (
          <path key={i} d={area(f) || ''} fill={BLUE} stroke={BLUE} strokeWidth={2} />
        ))}
        <path d={line(ppkA) || ''} stroke={BLUE} strokeWidth={3.5} />
        <path d={line(ppkB) || ''} stroke={BLUE} strokeWidth={3.5} />
      </g>
      <path d={markers(ppkA, y, 1, 'star', 6.5)} stroke={BLUE} strokeWidth={2.4} />
      <path d={markers(ppkB, y, 1, 'star', 6.5)} stroke={BLUE} strokeWidth={2.4} />
      <g clipPath={clipB}>
        {kfFill.map((f: B[], i: number) => (
          <path key={i} d={area(f) || ''} fill={GREEN} stroke={GREEN} strokeWidth={2} />
        ))}
      </g>
      <g clipPath={clip}>
        <path d={line(kfA) || ''} stroke={GREEN} strokeWidth={3} />
        <path d={line(kfB) || ''} stroke={GREEN} strokeWidth={3} />
      </g>
      <path d={markers(kfA, y, 1, 'ring', 5.5)} stroke={GREEN} strokeWidth={2.2} />
      <path d={markers(kfB, y, 1, 'ring', 5.5)} stroke={GREEN} strokeWidth={2.2} />
    </g>
  );
}

function ProcPlot({ y, clip, nsat, amb, fix }: any) {
  const step = d3.line<P>().curve(d3.curveStepAfter).x((d) => x(d[0])).y((d) => y(d[1] as number));
  const line = d3.line<P>().x((d) => x(d[0])).y((d) => y(d[1] as number));
  return (
    <g fill="none" clipPath={clip} strokeWidth={2.7}>
      <path d={step(nsat) || ''} stroke={RED} />
      <path d={line(amb) || ''} stroke={GREEN} />
      <path d={line(fix) || ''} stroke={BLUE} />
    </g>
  );
}

function DiffLegend({ lx, ly }: any) {
  return (
    <g>
      <rect x={lx} y={ly} width={130} height={69} fill="#fff" stroke="#000" strokeWidth={1.3} />
      <path d={starAt(lx + 44, ly + 18, 5)} stroke={BLUE} strokeWidth={1.7} fill="none" />
      <path d={ringAt(lx + 44, ly + 49, 5)} stroke={GREEN} strokeWidth={1.7} fill="none" />
      <g fontFamily={FONT} fontSize={20} fill="#111">
        <text x={lx + 81} y={ly + 25}>PPK</text>
        <text x={lx + 81} y={ly + 56}>KF</text>
      </g>
    </g>
  );
}

function StdLegend({ lx, ly }: any) {
  const rows = [
    { dy: 22, color: BLUE, sub: 'PPK-STD', m: starAt(lx + 43, ly + 22, 5.5) },
    { dy: 64, color: GREEN, sub: 'KF-STD', m: ringAt(lx + 43, ly + 64, 5) },
  ];
  return (
    <g>
      <rect x={lx} y={ly} width={184} height={88} fill="#fff" stroke="#000" strokeWidth={1.3} />
      {rows.map((r) => (
        <g key={r.sub}>
          <line x1={lx + 12} x2={lx + 74} y1={ly + r.dy} y2={ly + r.dy} stroke={r.color} strokeWidth={2.7} />
          <path d={r.m} stroke={r.color} strokeWidth={2.4} fill="none" />
          <text x={lx + 79} y={ly + r.dy + 6} fontFamily={FONT} fontSize={20} fill="#111">
            EN<tspan fontSize={15} dy={7}>{r.sub}</tspan>
          </text>
        </g>
      ))}
    </g>
  );
}

function ProcLegend({ lx, ly }: any) {
  const rows = [
    { dy: 17, color: RED, label: 'n sat.' },
    { dy: 47, color: GREEN, label: 'amb. ratio' },
    { dy: 77, color: BLUE, label: '1:fix - 2:float' },
  ];
  return (
    <g>
      <rect x={lx} y={ly} width={200} height={97} fill="#fff" stroke="#000" strokeWidth={1.3} />
      {rows.map((r) => (
        <g key={r.label}>
          <line x1={lx + 12} x2={lx + 76} y1={ly + r.dy} y2={ly + r.dy} stroke={r.color} strokeWidth={2.7} />
          <text x={lx + 79} y={ly + r.dy + 7} fontFamily={FONT} fontSize={20} fill="#111">{r.label}</text>
        </g>
      ))}
    </g>
  );
}

function bubble(cx: number, cy: number, r: number) {
  const a = (33 * Math.PI) / 180;
  const p1x = cx + r * Math.cos(a);
  const p1y = cy + r * Math.sin(a);
  const by = cy + 0.98 * r;
  const bx = cx + r * Math.sqrt(1 - 0.98 * 0.98);
  return `M${p1x},${p1y}L${cx + 0.8 * r},${cy + 0.62 * r}L${cx + 1.03 * r},${cy + 0.62 * r}L${cx + 1.03 * r},${by}L${bx},${by}A${r},${r} 0 1 1 ${p1x},${p1y}Z`;
}

const bubbles = [
  { cx: 329, cy: 104.5, r: 57, label: '1' },
  { cx: 773, cy: 118.5, r: 58, label: '2' },
  { cx: 1151, cy: 118.5, r: 59, label: '3' },
  { cx: 325.5, cy: 817, r: 58, label: '1' },
];
const ellipses = [
  { cx: 235, cy: 191, rx: 92, ry: 63 },
  { cx: 232, cy: 904, rx: 94, ry: 64 },
  { cx: 875, cy: 731, rx: 36, ry: 640 },
  { cx: 1246.5, cy: 731, rx: 36.5, ry: 640 },
];

export default function App() {
  const t1 = 'PPK AND KF POSITIONING LANE OFFSETS -Lane2/Receiver';
  const t2 = 'PPK AND KF STANDARD DEVIATION ANALYSIS -Lane2/Receiver';
  const t3 = 'PPK PROCESSING ANALYSIS - Lane2/Receiver';
  return (
    <svg width={1690} height={1440} viewBox="0 0 1690 1440"
      style={{ position: 'absolute', left: 0, top: 0, background: '#fff' }}>
      <defs>
        <linearGradient id="shade" x1="0" y1="0" x2="0" y2="1">
          <stop offset="0" stopColor="#aaaaaa" />
          <stop offset="1" stopColor="#cccccc" />
        </linearGradient>
      </defs>
      <rect x={43} y={14} width={1647} height={1426} fill="#cccccc" />
      <rect x={43} y={732} width={1647} height={24} fill="url(#shade)" />
      <line x1={43} x2={1690} y1={731.5} y2={731.5} stroke="#7f9cc6" strokeWidth={2} />

      <Axes id="c1" top={60} bottom={218} domain={[0, 25]} ticks={diffTicks} title={t1 + '1'} ylabel="UTM DIFF. [m]"
        render={(y: any) => <Scatter y={y} ppk={r1PpkDiff} kf={r1KfDiff} />}
        legend={<DiffLegend lx={129} ly={71} />} />
      <Axes id="c2" top={278} bottom={433} domain={[0, 1]} ticks={stdTicks} title={t2 + '1'} ylabel="UTM STD. DEV. [m]"
        render={(y: any, c: string, cb: string) => (
          <StdPlot y={y} clip={c} clipB={cb} base={r1PpkStdBase} ppkA={r1PpkStdA} ppkB={r1PpkStdB}
            ppkFill={r1PpkStdFill} kfFill={r1KfStdFill} kfA={r1KfStdA} kfB={r1KfStdB} />
        )}
        legend={<StdLegend lx={129} ly={289} />} />
      <Axes id="c3" top={496} bottom={650} domain={[0, 10]} ticks={procTicks} title={t3 + '1'} time
        render={(y: any, c: string) => <ProcPlot y={y} clip={c} nsat={r1NSat} amb={r1AmbRatio} fix={r1FixFloat} />}
        legend={<ProcLegend lx={129} ly={508} />} />

      <Axes id="c4" top={777} bottom={937} domain={[0, 25]} ticks={diffTicks} title={t1 + '2'} ylabel="UTM DIFF. [m]"
        render={(y: any) => <Scatter y={y} ppk={r2PpkDiff} kf={r2KfDiff} />}
        legend={<DiffLegend lx={131} ly={790} />} />
      <Axes id="c5" top={1000} bottom={1159} domain={[0, 1]} ticks={stdTicks} title={t2 + '2'} ylabel="UTM STD. DEV. [m]"
        render={(y: any, c: string, cb: string) => (
          <StdPlot y={y} clip={c} clipB={cb} base={r2PpkStdBase} ppkA={r2PpkStdA} ppkB={r2PpkStdB}
            ppkFill={r2PpkStdFill} kfFill={r2KfStdFill} kfA={r2KfStdA} kfB={r2KfStdB} />
        )}
        legend={<StdLegend lx={131} ly={1010} />} />
      <Axes id="c6" top={1221} bottom={1381} domain={[0, 10]} ticks={procTicks} title={t3 + '2'} time
        render={(y: any, c: string) => <ProcPlot y={y} clip={c} nsat={r2NSat} amb={r2AmbRatio} fix={r2FixFloat} />}
        legend={<ProcLegend lx={131} ly={1234} />} />

      <g stroke={RED} strokeWidth={4.5} strokeLinejoin="round">
        {bubbles.map((b, i) => (
          <g key={i}>
            <path d={bubble(b.cx, b.cy, b.r)} fill="#fff" />
            <text x={b.cx} y={b.cy + 11} textAnchor="middle" stroke="none" fill="#000"
              fontFamily='"Liberation Serif", "Times New Roman", serif' fontSize={32}>{b.label}</text>
          </g>
        ))}
        {ellipses.map((e, i) => (
          <ellipse key={i} cx={e.cx} cy={e.cy} rx={e.rx} ry={e.ry} fill="none" />
        ))}
      </g>
    </svg>
  );
}
